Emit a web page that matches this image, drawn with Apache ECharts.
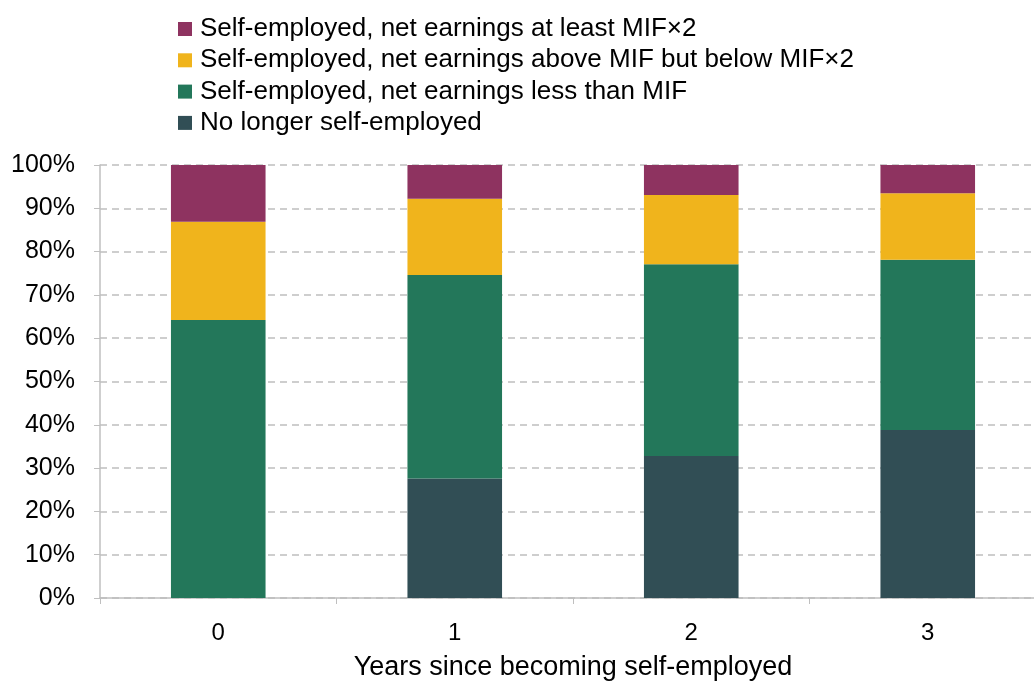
<!DOCTYPE html>
<html><head><meta charset="utf-8">
<script src="https://cdn.jsdelivr.net/npm/echarts@6/dist/echarts.min.js"></script>
<style>html,body{margin:0;padding:0;background:#fff}#c{width:1034px;height:681px}</style>
</head><body><div id="c"></div>
<script>
const categories = ['0', '1', '2', '3'];
const noLonger = [0, 27.6, 32.8, 38.8];
const lessThanMIF = [64.2, 47.0, 44.3, 39.3];
const aboveMIF = [22.7, 17.6, 16.0, 15.4];
const atLeast2MIF = [13.1, 7.8, 6.9, 6.5];
const names = [
  'Self-employed, net earnings at least MIF×2',
  'Self-employed, net earnings above MIF but below MIF×2',
  'Self-employed, net earnings less than MIF',
  'No longer self-employed'
];
const font = 'Liberation Sans, Arial, sans-serif';
const chart = echarts.init(document.getElementById('c'));
chart.setOption({
  animation: false,
  legend: {
    orient: 'vertical', left: 173, top: 11, itemGap: 5.3,
    itemWidth: 14, itemHeight: 14, icon: 'rect',
    data: names,
    textStyle: { fontFamily: font, fontSize: 26, lineHeight: 25, color: '#000', padding: [0,0,0,3] }
  },
  grid: { left: 100, right: -12, top: 165, bottom: 83, outerBoundsMode: 'none', containLabel: false },
  xAxis: {
    type: 'category', data: categories,
    name: 'Years since becoming self-employed', nameLocation: 'middle', nameGap: 56,
    nameTextStyle: { fontFamily: font, fontSize: 27, color: '#000' },
    axisLine: { lineStyle: { color: '#bfbfbf', width: 1.5 } },
    axisTick: { show: true, length: 6, lineStyle: { color: '#bfbfbf' } },
    axisLabel: { fontFamily: font, fontSize: 24, color: '#000', margin: 23 }
  },
  yAxis: {
    type: 'value', min: 0, max: 100, interval: 10,
    axisLine: { show: true, lineStyle: { color: '#bfbfbf', width: 1.5 } },
    axisTick: { show: true, length: 6, inside: false, lineStyle: { color: '#bfbfbf' } },
    axisLabel: { fontFamily: font, fontSize: 25, color: '#000', formatter: '{value}%', margin: 25 },
    splitLine: { show: true, lineStyle: { color: '#bfbfbf', type: [7, 5], width: 1.5 } }
  },
  series: [
    { name: names[3], type: 'bar', stack: 's', data: noLonger, barWidth: '40%', itemStyle: { color: '#314E55' } },
    { name: names[2], type: 'bar', stack: 's', data: lessThanMIF, barWidth: '40%', itemStyle: { color: '#23775A' } },
    { name: names[1], type: 'bar', stack: 's', data: aboveMIF, barWidth: '40%', itemStyle: { color: '#F0B41C' } },
    { name: names[0], type: 'bar', stack: 's', data: atLeast2MIF, barWidth: '40%', itemStyle: { color: '#8E3360' } }
  ]
});
</script></body></html>
